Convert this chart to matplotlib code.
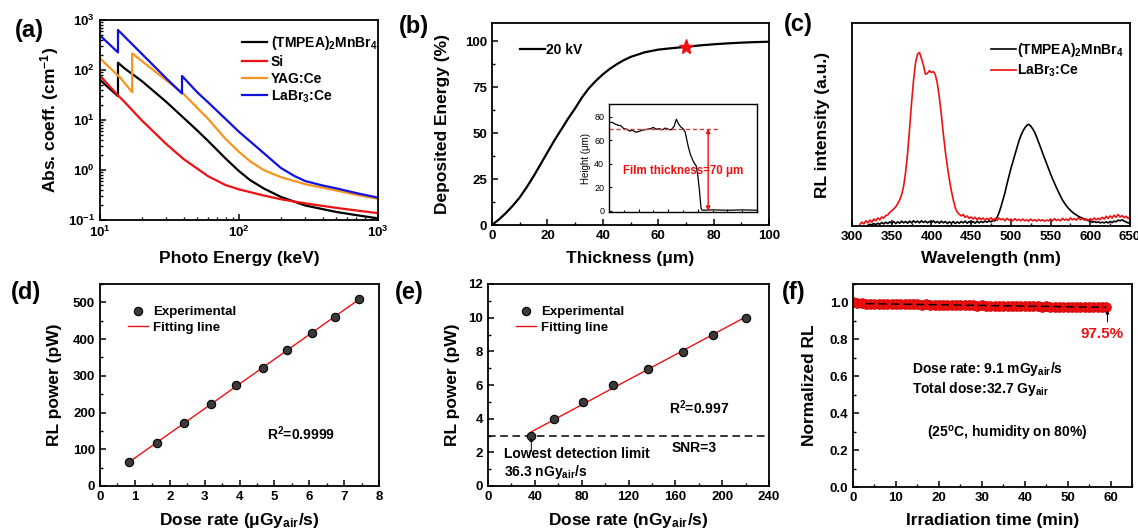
import numpy as np
import matplotlib
matplotlib.use('Agg')
import matplotlib.pyplot as plt
from matplotlib.ticker import MultipleLocator, LogLocator, FuncFormatter, NullFormatter

# ---------------- data ----------------
# (a) absorption coefficients (keV, cm^-1)
E_tm = [10, 12, 13.47, 13.47, 15, 20, 30, 40, 50, 60, 80, 100, 120, 150, 200, 300, 500, 700, 1000]
mu_tm = [63, 40, 30, 140, 108, 60, 23, 11, 6.2, 3.8, 1.7, 0.95, 0.63, 0.43, 0.29, 0.195, 0.145, 0.125, 0.108]
E_si = [10, 13.47, 15, 20, 30, 40, 60, 80, 100, 150, 200, 300, 500, 700, 1000]
mu_si = [77, 31, 23, 9.8, 3.3, 1.65, 0.75, 0.5, 0.41, 0.31, 0.26, 0.215, 0.175, 0.155, 0.137]
E_yag = [10, 14, 17.04, 17.04, 20, 30, 40, 60, 80, 100, 120, 150, 200, 300, 500, 700, 1000]
mu_yag = [171, 70, 36, 215, 151, 62, 33, 10.5, 4.2, 2.3, 1.5, 1.0, 0.72, 0.52, 0.39, 0.32, 0.265]
E_la = [10, 13.47, 13.47, 20, 30, 38.9, 38.9, 50, 60, 80, 100, 150, 200, 250, 300, 400, 500, 700, 1000]
mu_la = [490, 225, 630, 210, 68, 34, 76, 36, 22.5, 10.5, 5.8, 2.2, 1.1, 0.76, 0.6, 0.49, 0.43, 0.345, 0.28]
legend_a = ['(TMPEA)$_2$MnBr$_4$', 'Si', 'YAG:Ce', 'LaBr$_3$:Ce']

# (b) deposited energy vs thickness
thick = [0, 2.5, 5, 7.5, 10, 12.5, 15, 17.5, 20, 22.5, 25, 27.5, 30, 32.5, 35, 37.5, 40, 42.5,
         45, 47.5, 50, 55, 60, 65, 70, 75, 80, 85, 90, 95, 100]
dep = [0, 3, 6.5, 10.5, 15, 20.5, 26.5, 33, 39.5, 46, 52, 58, 63.5, 69.5, 74.5, 78.5, 82, 85,
       87.5, 89.7, 91.5, 94, 95.5, 96.3, 97.0, 97.8, 98.4, 98.9, 99.3, 99.6, 99.8]
star_x, star_y = 70, 96.7
# inset profile (arbitrary position, height in um)
prof_x = [0, 2, 4, 6, 8, 10, 12, 14, 16, 18, 20, 22, 24, 26, 28, 30, 32, 34, 36, 38, 40, 42, 44,
          45.5, 47, 48.5, 50, 51.5, 53.5, 55, 57, 59, 60, 61, 62.2, 63, 70, 80, 90, 100]
prof_y = [75, 75.5, 74, 73, 72.5, 70, 69.5, 68, 68.5, 67, 67.5, 68.5, 69, 69.5, 70, 71, 69.5, 70,
          69, 70.5, 69.5, 69, 72, 78, 74, 71.5, 70, 67, 55, 48, 42, 38, 30, 19, 2, 0.5, 0.8, 0.5, 0.8, 0.5]

# (c) RL spectra (normalised)
wl_red = np.arange(310, 650.1, 2.5)  # sampling grid (nm)
rl_red = [0.010, 0.022, 0.012, 0.030, 0.018, 0.034, 0.022, 0.040, 0.030, 0.046, 0.036, 0.052, 0.046,
          0.060, 0.064, 0.078, 0.088, 0.098, 0.110, 0.128, 0.150, 0.180, 0.230, 0.310, 0.420, 0.560,
          0.710, 0.840, 0.940, 0.990, 1.000, 0.965, 0.925, 0.875, 0.880, 0.895, 0.885, 0.890, 0.870,
          0.820, 0.740, 0.640, 0.530, 0.430, 0.345, 0.270, 0.205, 0.150, 0.105, 0.080, 0.068, 0.058,
          0.066, 0.050, 0.058, 0.044, 0.052, 0.040, 0.050, 0.036, 0.048, 0.038, 0.046, 0.034, 0.044,
          0.036, 0.048, 0.034, 0.044, 0.032, 0.046, 0.036, 0.042, 0.030, 0.044, 0.034, 0.040, 0.030,
          0.042, 0.032, 0.038, 0.030, 0.040, 0.030, 0.036, 0.028, 0.040, 0.030, 0.036, 0.028, 0.038,
          0.030, 0.036, 0.028, 0.034, 0.030, 0.040, 0.030, 0.042, 0.032, 0.038, 0.030, 0.044, 0.034,
          0.040, 0.032, 0.046, 0.036, 0.042, 0.034, 0.048, 0.036, 0.044, 0.034, 0.040, 0.032, 0.042,
          0.034, 0.046, 0.036, 0.044, 0.036, 0.050, 0.040, 0.056, 0.044, 0.058, 0.046, 0.062, 0.050,
          0.066, 0.052, 0.060, 0.048, 0.056, 0.044, 0.050]
wl_blk = np.arange(320, 650.1, 2.5)  # sampling grid (nm)
rl_blk = [0.004, 0.010, 0.006, 0.014, 0.008, 0.016, 0.010, 0.020, 0.012, 0.022, 0.014, 0.024, 0.016,
          0.026, 0.014, 0.024, 0.016, 0.028, 0.018, 0.026, 0.016, 0.028, 0.018, 0.030, 0.020, 0.028,
          0.018, 0.030, 0.020, 0.028, 0.018, 0.026, 0.020, 0.030, 0.018, 0.026, 0.016, 0.028, 0.018,
          0.026, 0.014, 0.024, 0.016, 0.026, 0.014, 0.024, 0.016, 0.026, 0.018, 0.028, 0.016, 0.026,
          0.018, 0.026, 0.016, 0.028, 0.018, 0.026, 0.020, 0.028, 0.022, 0.030, 0.024, 0.032, 0.030,
          0.048, 0.075, 0.110, 0.150, 0.190, 0.240, 0.285, 0.330, 0.370, 0.410, 0.450, 0.488, 0.520,
          0.545, 0.565, 0.580, 0.586, 0.576, 0.560, 0.540, 0.512, 0.482, 0.452, 0.420, 0.390, 0.360,
          0.330, 0.300, 0.272, 0.246, 0.220, 0.196, 0.172, 0.150, 0.132, 0.116, 0.102, 0.090, 0.080,
          0.070, 0.064, 0.056, 0.050, 0.046, 0.040, 0.036, 0.030, 0.028, 0.022, 0.026, 0.020, 0.024,
          0.018, 0.022, 0.018, 0.024, 0.018, 0.026, 0.020, 0.028, 0.024, 0.034, 0.030, 0.036, 0.028,
          0.024, 0.018, 0.016]
legend_c = ['(TMPEA)$_2$MnBr$_4$', 'LaBr$_3$:Ce']

# (d) RL power vs dose rate (uGy_air/s)
dose_d = [0.83, 1.63, 2.40, 3.17, 3.91, 4.66, 5.36, 6.07, 6.75, 7.44]
pow_d = [64, 118, 171, 222, 274, 322, 369, 416, 461, 510]

# (e) RL power vs dose rate (nGy_air/s)
dose_e = [37, 56.4, 81.5, 106.9, 136.3, 166.8, 192.4, 220.4]
pow_e = [2.99, 3.98, 4.99, 6.0, 6.97, 7.98, 8.99, 10.0]
snr_level = 3

# (f) stability
t_f = list(range(0, 60))
rl_f = [1.000, 0.997, 0.995, 0.994, 0.993, 0.992, 0.993, 0.991, 0.992, 0.990, 0.991, 0.990, 0.992,
        0.990, 0.989, 0.990, 0.988, 0.989, 0.987, 0.988, 0.987, 0.986, 0.987, 0.985, 0.986, 0.985,
        0.984, 0.985, 0.984, 0.983, 0.984, 0.983, 0.982, 0.983, 0.982, 0.981, 0.982, 0.981, 0.980,
        0.981, 0.980, 0.979, 0.980, 0.979, 0.978, 0.979, 0.978, 0.977, 0.978, 0.977, 0.977, 0.976,
        0.977, 0.976, 0.976, 0.975, 0.976, 0.975, 0.975, 0.975]

# ---------------- style ----------------
plt.rcParams.update({
    'font.family': ['Liberation Sans', 'DejaVu Sans'],
    'font.weight': 'bold',
    'axes.labelweight': 'bold',
    'mathtext.fontset': 'custom',
    'mathtext.rm': 'Liberation Sans:bold',
    'mathtext.it': 'Liberation Sans:bold:italic',
    'mathtext.bf': 'Liberation Sans:bold',
    'mathtext.default': 'rm',
    'axes.linewidth': 1.3,
    'xtick.direction': 'in', 'ytick.direction': 'in',
    'xtick.major.size': 4, 'ytick.major.size': 4,
    'xtick.minor.size': 2.2, 'ytick.minor.size': 2.2,
    'xtick.major.width': 1.1, 'ytick.major.width': 1.1,
    'xtick.minor.width': 1.0, 'ytick.minor.width': 1.0,
    'xtick.labelsize': 9.5, 'ytick.labelsize': 9.5,
    'axes.labelsize': 12.5,
    'legend.fontsize': 10,
})

W, H = 1138, 528
fig = plt.figure(figsize=(W / 100, H / 100), dpi=100)


def px_axes(l, t, r, b):
    return fig.add_axes([l / W, 1 - b / H, (r - l) / W, (b - t) / H])


def labels(ax, xl, yl, box, xoff, yoff):
    l, t, r, b = box
    ax.set_xlabel(xl)
    ax.set_ylabel(yl)
    ax.xaxis.set_label_coords(0.5, -xoff / (b - t))
    ax.xaxis.label.set_va('center')
    ax.yaxis.set_label_coords(-yoff / (r - l), 0.5)
    ax.yaxis.label.set_va('center')


RED = '#ee1111'
BLUE = '#1010e0'
ORANGE = '#f7941d'

# ---- (a)
box = (100, 20, 378, 220)
ax = px_axes(*box)
ax.set_xscale('log'); ax.set_yscale('log')
ax.plot(E_tm, mu_tm, color='black', lw=1.6, label=legend_a[0])
ax.plot(E_si, mu_si, color=RED, lw=1.6, label=legend_a[1])
ax.plot(E_yag, mu_yag, color=ORANGE, lw=1.6, label=legend_a[2])
ax.plot(E_la, mu_la, color=BLUE, lw=1.6, label=legend_a[3])
ax.set_xlim(10, 1000); ax.set_ylim(0.1, 1000)
fmt = FuncFormatter(lambda v, p: r'$10^{%d}$' % round(np.log10(v)))
ax.xaxis.set_major_formatter(fmt); ax.yaxis.set_major_formatter(fmt)
ax.xaxis.set_minor_formatter(NullFormatter()); ax.yaxis.set_minor_formatter(NullFormatter())
ax.xaxis.set_minor_locator(LogLocator(subs=np.arange(2, 10)))
ax.yaxis.set_minor_locator(LogLocator(subs=np.arange(2, 10)))
labels(ax, 'Photo Energy (keV)', 'Abs. coeff. (cm$^{-1}$)', box, 38, 50)
ax.legend(loc='upper left', bbox_to_anchor=(0.51, 0.93), frameon=False, borderpad=0,
          borderaxespad=0, handlelength=1.8, handletextpad=0.3, labelspacing=0.2)

# ---- (b)
box = (492, 23, 769, 225)
ax = px_axes(*box)
ax.plot(thick, dep, color='black', lw=1.6, label='20 kV')
ax.plot([star_x], [star_y], marker='*', color=RED, ms=11, ls='none')
ax.set_xlim(0, 100); ax.set_ylim(0, 110)
ax.xaxis.set_major_locator(MultipleLocator(20)); ax.xaxis.set_minor_locator(MultipleLocator(10))
ax.yaxis.set_major_locator(MultipleLocator(25)); ax.yaxis.set_minor_locator(MultipleLocator(12.5))
labels(ax, 'Thickness (μm)', 'Deposited Energy (%)', box, 34, 50)
ax.legend(loc='upper left', bbox_to_anchor=(0.10, 0.90), frameon=False, borderpad=0,
          borderaxespad=0, handlelength=1.8, handletextpad=0.1)
# inset
ibox = (609, 104, 757, 212)
ins = px_axes(*ibox)
ins.plot(prof_x, prof_y, color='black', lw=0.9)
ins.plot([0, 75], [70, 70], color='#d04040', lw=1.0, ls=(0, (3, 2)))
ins.annotate('', xy=(67, 0), xytext=(67, 70),
             arrowprops=dict(arrowstyle='<|-|>', color=RED, lw=1.0, mutation_scale=6,
                             shrinkA=0, shrinkB=0))
ins.text(50, 34, 'Film thickness=70 μm', color=RED, fontsize=8.3, ha='center', va='center')
ins.set_xlim(0, 100); ins.set_ylim(-1, 91)
ins.yaxis.set_major_locator(MultipleLocator(20))
ins.xaxis.set_major_locator(MultipleLocator(20)); ins.xaxis.set_minor_locator(MultipleLocator(10))
ins.set_xticklabels([])
ins.tick_params(labelsize=6.5, length=2.5, width=0.8)
ins.tick_params(which='minor', length=1.5, width=0.8)
for s in ins.spines.values():
    s.set_linewidth(1.0)
for lab in ins.get_yticklabels():
    lab.set_fontweight('normal')
ins.set_ylabel('Height (μm)', fontsize=7, fontweight='normal', labelpad=2)

# ---- (c)
box = (852, 23, 1130, 226)
ax = px_axes(*box)
ax.plot(wl_blk, rl_blk, color='black', lw=1.2, label=legend_c[0])
ax.plot(wl_red, rl_red, color=RED, lw=1.2, label=legend_c[1])
ax.set_xlim(300, 650); ax.set_ylim(0, 1.17)
ax.set_yticks([])
ax.xaxis.set_major_locator(MultipleLocator(50)); ax.xaxis.set_minor_locator(MultipleLocator(25))
labels(ax, 'Wavelength (nm)', 'RL intensity (a.u.)', box, 32, 29)
ax.legend(loc='upper left', bbox_to_anchor=(0.50, 0.91), frameon=False, borderpad=0,
          borderaxespad=0, handlelength=1.8, handletextpad=0.1, labelspacing=0.25)

# ---- (d)
box = (100, 284, 379, 486)
ax = px_axes(*box)
kd = np.polyfit(dose_d, pow_d, 1)
ax.plot(dose_d, pow_d, 'o', ms=6, mfc='#3a3a3a', mec='black', mew=0.8, label='Experimental', zorder=3)
ax.plot([dose_d[0], dose_d[-1]], np.polyval(kd, [dose_d[0], dose_d[-1]]), color=RED, lw=1.0,
        label='Fitting line', zorder=2)
ax.set_xlim(0, 8); ax.set_ylim(0, 550)
ax.xaxis.set_major_locator(MultipleLocator(1)); ax.xaxis.set_minor_locator(MultipleLocator(0.5))
ax.yaxis.set_major_locator(MultipleLocator(100)); ax.yaxis.set_minor_locator(MultipleLocator(50))
labels(ax, 'Dose rate (μGy$_{air}$/s)', 'RL power (pW)', box, 34, 45)
ax.text(4.8, 143, 'R$^2$=0.9999', fontsize=10, ha='left', va='center')
ax.legend(loc='upper left', bbox_to_anchor=(0.10, 0.89), frameon=False, borderpad=0,
          borderaxespad=0, handlelength=1.5, handletextpad=0.4, labelspacing=0.25, fontsize=9.5)

# ---- (e)
box = (488, 284, 769, 486)
ax = px_axes(*box)
ke = np.polyfit(dose_e, pow_e, 1)
ax.plot(dose_e, pow_e, 'o', ms=6, mfc='#3a3a3a', mec='black', mew=0.8, label='Experimental', zorder=3)
ax.plot([dose_e[0], 222], np.polyval(ke, [dose_e[0], 222]), color=RED, lw=1.0,
        label='Fitting line', zorder=2)
ax.axhline(snr_level, color='black', lw=1.1, ls=(0, (5, 3)))
ax.annotate('', xy=(dose_e[0], 2.88), xytext=(dose_e[0], 2.05),
            arrowprops=dict(arrowstyle='-|>', color='black', lw=0.7, mutation_scale=5,
                            shrinkA=0, shrinkB=0))
ax.set_xlim(0, 240); ax.set_ylim(0, 12)
ax.xaxis.set_major_locator(MultipleLocator(40)); ax.xaxis.set_minor_locator(MultipleLocator(20))
ax.yaxis.set_major_locator(MultipleLocator(2)); ax.yaxis.set_minor_locator(MultipleLocator(1))
labels(ax, 'Dose rate (nGy$_{air}$/s)', 'RL power (pW)', box, 34, 36)
ax.text(155, 4.67, 'R$^2$=0.997', fontsize=10, ha='left', va='center')
ax.text(157, 2.24, 'SNR=3', fontsize=10, ha='left', va='center')
ax.text(14, 1.88, 'Lowest detection limit', fontsize=10, ha='left', va='center')
ax.text(14, 0.85, '36.3 nGy$_{air}$/s', fontsize=10, ha='left', va='center')
ax.legend(loc='upper left', bbox_to_anchor=(0.10, 0.89), frameon=False, borderpad=0,
          borderaxespad=0, handlelength=1.5, handletextpad=0.4, labelspacing=0.25, fontsize=9.5)

# ---- (f)
box = (853, 284, 1132, 487)
ax = px_axes(*box)
ax.plot(t_f, rl_f, 'o', ms=7, mfc=RED, mec='#cc0000', mew=0.5, ls='none', zorder=2)
kf = np.polyfit(t_f, rl_f, 1)
ax.plot([3, 59], np.polyval(kf, [3, 59]), color='black', lw=1.0, ls=(0, (6, 3)), zorder=3)
ax.annotate('', xy=(t_f[-1] + 0.3, 0.958), xytext=(t_f[-1] + 0.3, 0.895),
            arrowprops=dict(arrowstyle='-|>', color='black', lw=0.7, mutation_scale=5,
                            shrinkA=0, shrinkB=0))
ax.text(58, 0.83, '97.5%', color=RED, fontsize=11, ha='center', va='center')
ax.text(13.7, 0.637, 'Dose rate: 9.1 mGy$_{air}$/s', fontsize=10, ha='left', va='center')
ax.text(13.7, 0.529, 'Total dose:32.7 Gy$_{air}$', fontsize=10, ha='left', va='center')
ax.text(17.2, 0.29, '(25$^{o}$C, humidity on 80%)', fontsize=10, ha='left', va='center')
ax.set_xlim(0, 65); ax.set_ylim(0, 1.1)
ax.xaxis.set_major_locator(MultipleLocator(10)); ax.xaxis.set_minor_locator(MultipleLocator(5))
ax.yaxis.set_major_locator(MultipleLocator(0.2)); ax.yaxis.set_minor_locator(MultipleLocator(0.1))
ax.yaxis.set_major_formatter(FuncFormatter(lambda v, p: '%.1f' % v))
labels(ax, 'Irradiation time (min)', 'Normalized RL', box, 34, 43)

# panel letters
for txt, x, y in [('(a)', 29, 31), ('(b)', 414, 27), ('(c)', 798, 25),
                  ('(d)', 26, 293), ('(e)', 409, 292), ('(f)', 794, 293)]:
    fig.text(x / W, 1 - y / H, txt, fontsize=17, ha='center', va='center')

fig.savefig('out.png', dpi=100)
